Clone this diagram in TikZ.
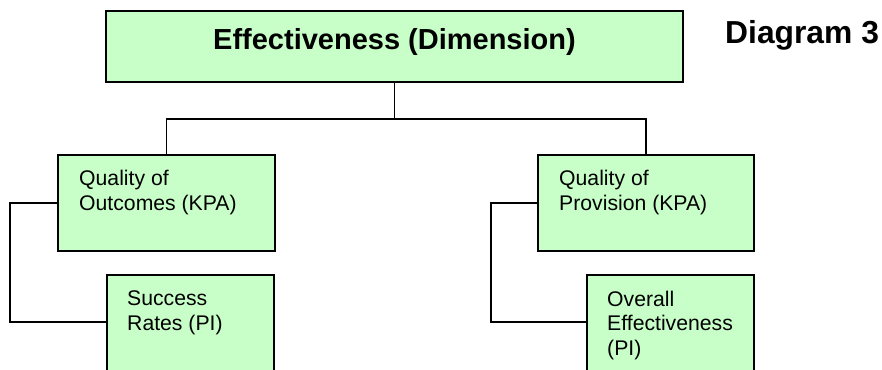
\documentclass[tikz,border=0pt]{standalone}
\usepackage{fontspec}
\setmainfont{Liberation Sans}
\begin{document}
\begin{tikzpicture}[x=1pt,y=-1pt,
  box/.style={draw=black,line width=1.5pt,fill=boxgreen,rectangle},
  link/.style={draw=black,line width=1.4pt},
  small/.style={font=\fontsize{21.2}{24.5}\selectfont,anchor=base west,align=left,inner sep=0pt}]
\definecolor{boxgreen}{HTML}{C8FFC8}
\useasboundingbox (0,0) rectangle (882,369);
\begin{scope}
\clip (0,0) rectangle (882,369);
% boxes
\path[box] (106,11) rectangle (683,82);
\path[box] (58,155) rectangle (275,251);
\path[box] (538,155) rectangle (754,251);
\path[box] (107,275) rectangle (274,372);
\path[box] (587,275) rectangle (754,372);
\end{scope}
% named anchors of the boxes
\coordinate (dimB) at (394.5,82);
\coordinate (kpaLT) at (166.5,155);
\coordinate (kpaRT) at (646,155);
\coordinate (kpaLW) at (58,203);
\coordinate (kpaRW) at (538,203);
\coordinate (piLW) at (107,322);
\coordinate (piRW) at (587,322);
% connectors
\draw[link] (dimB) -- ++(0,37) coordinate (bus);
\draw[link] (kpaLT) |- (bus) -| (kpaRT);
\draw[link] (kpaLW) -- (10,203) |- (piLW);
\draw[link] (kpaRW) -- (491,203) |- (piRW);
% texts (multi-line nodes are placed by the baseline of their last line)
\node[font=\fontsize{29}{34}\selectfont\bfseries,anchor=base,inner sep=0pt] (dim) at (394.5,49.5) {Effectiveness (Dimension)};
\node[font=\fontsize{31.8}{36}\selectfont\bfseries,anchor=base west,inner sep=0pt] (ttl) at (725,43.5) {Diagram 3};
\node[small] (qo) at (79,210) {Quality of\\Outcomes (KPA)};
\node[small] (qp) at (559,210) {Quality of\\Provision (KPA)};
\node[small] (sr) at (127,330) {Success\\Rates (PI)};
\node[small] (oe) at (607,355) {Overall\\Effectiveness\\(PI)};
\end{tikzpicture}
\end{document}
